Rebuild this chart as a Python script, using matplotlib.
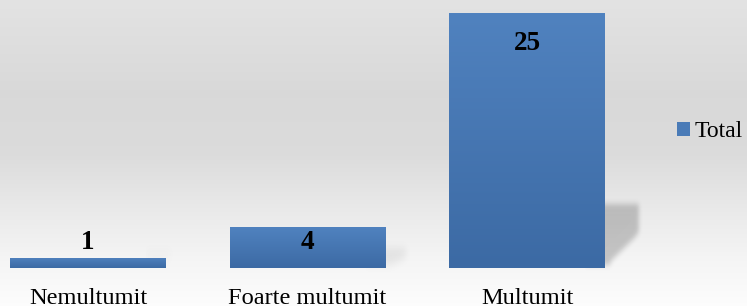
import numpy as np
import matplotlib
matplotlib.use('Agg')
import matplotlib.pyplot as plt

# data
categories = ['Nemultumit', 'Foarte multumit', 'Multumit']
values = [1, 4, 25]
series_name = 'Total'

W, H = 747, 306
px_x = 219.5      # px per category
px_y = 10.2       # px per unit
base_px = 268     # baseline from top
left_px = 88      # first category center

serif = ['Liberation Serif', 'DejaVu Serif']


def blur1d(a, sigma, axis):
    r = int(3 * sigma) + 1
    k = np.exp(-0.5 * (np.arange(-r, r + 1) / sigma) ** 2)
    k /= k.sum()
    return np.apply_along_axis(lambda m: np.convolve(m, k, mode='same'), axis, a)


fig = plt.figure(figsize=(W / 100, H / 100), dpi=100)

# background gradient
bg = fig.add_axes([0, 0, 1, 1])
yy = np.linspace(0, 1, 300)
stops_y = [0.0, 0.3, 0.5, 0.7, 0.85, 1.0]
stops_v = [0.89, 0.85, 0.86, 0.92, 0.96, 0.99]
v = np.interp(yy, stops_y, stops_v)
bg_img = np.repeat(v[:, None], 2, axis=1)
bg.imshow(np.dstack([bg_img] * 3), aspect='auto', extent=[0, 1, 0, 1], origin='upper')
bg.set_axis_off()

ax = fig.add_axes([0, 0, 1, 1])
ax.set_facecolor('none')
x = np.arange(len(categories))
bw = 156 / px_x
bars = ax.bar(x, values, width=bw, color='#4a7bb7', zorder=3, label=series_name)

dx = 1 / px_x
dy = 1 / px_y

# soft perspective shadows, built on a pixel grid
for p in bars:
    right = p.get_x() + p.get_width()
    h_px = p.get_height() * px_y
    sh_h = max(0.25 * h_px, 20)
    sh_w = min(33, 0.5 * h_px)
    strength = 0.2 * min(1.0, h_px / 120)
    gx0, gx1 = -20, 50      # px relative to bar right edge
    gy0, gy1 = -90, 12      # px relative to baseline (negative = up)
    xs = np.arange(gx0, gx1) + 0.5
    ys = np.arange(gy0, gy1) + 0.5
    X, Y = np.meshgrid(xs, ys)
    # right edge recedes toward the bottom
    frac = np.clip((Y - (-sh_h * 0.55)) / (sh_h * 0.45 + 1e-6), 0, 1)
    xr = sh_w * (1 - 0.85 * frac)
    mask = ((X < xr) & (Y > -sh_h) & (Y < -3)).astype(float)
    sig = 3.0 if h_px > 120 else 4.5
    mask = blur1d(blur1d(mask, sig, 0), sig * 0.7, 1)
    rgba = np.zeros(mask.shape + (4,))
    rgba[..., 3] = strength * mask
    ax.imshow(rgba, extent=[right + gx0 * dx, right + gx1 * dx, -gy1 * dy, -gy0 * dy],
              aspect='auto', zorder=2, origin='upper', interpolation='bilinear')

# bar gradients
for p in bars:
    bx, by = p.get_x(), p.get_y()
    w, h = p.get_width(), p.get_height()
    t = np.linspace(0, 1, 100)[:, None]
    top = np.array([80, 130, 191]) / 255
    bot = np.array([60, 106, 164]) / 255
    grad = top * (1 - t[..., None]) + bot * t[..., None]
    grad = np.repeat(grad, 2, axis=1)
    im = ax.imshow(grad, extent=[bx, bx + w, by, by + h], aspect='auto', zorder=4, origin='upper')
    im.set_clip_path(p)

# value labels
for xi, val in zip(x, values):
    ly = max(val - 3.0, 2.5)
    ax.text(xi, ly, str(val), ha='center', va='center', fontsize=19.5,
            fontweight='bold', family=serif, color='black', zorder=5)

# category labels
for xi, cat in zip(x, categories):
    ax.text(xi, -(304 - base_px) / px_y, cat, ha='center', va='baseline',
            fontsize=17.6, family=serif, color='black', zorder=5)

ax.set_xlim(-left_px / px_x, (W - left_px) / px_x)
ax.set_ylim(-(H - base_px) / px_y, base_px / px_y)
ax.set_axis_off()

fig.legend(handles=[bars], labels=[series_name], loc='center left',
           bbox_to_anchor=(677 / W, 1 - 131.5 / H), frameon=False,
           borderpad=0, borderaxespad=0, handlelength=0.55, handleheight=0.55,
           handletextpad=0.2, prop={'family': serif, 'size': 17})

fig.savefig('out.png', dpi=100)
